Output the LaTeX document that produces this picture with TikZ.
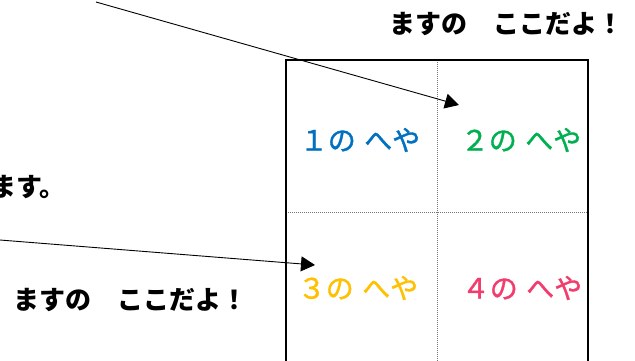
\documentclass[tikz,border=0pt]{standalone}
\usepackage{fontspec}
\newfontfamily\jp{Noto Sans CJK JP}
\newfontfamily\jpm[FakeBold=1.2]{Noto Sans CJK JP}
\usetikzlibrary{arrows.meta}
\definecolor{rblue}{HTML}{0070C0}
\definecolor{rgreen}{HTML}{00B050}
\definecolor{ryellow}{HTML}{FFC000}
\definecolor{rpink}{HTML}{F23C6E}
\newcommand{\gp}{\hspace{0.3em}}
\tikzset{
  blk/.style={font=\jp\bfseries\fontsize{26}{30}\selectfont, inner sep=0pt, text=black},
  room/.style={font=\jpm\fontsize{28}{32}\selectfont, inner sep=0pt},
  frame/.style={draw=black, line width=1.5pt},
  grid/.style={draw=black!55, line width=1pt, dash pattern=on 1pt off 1pt},
  pointer/.style={draw=black, line width=0.9pt, -{Triangle[length=14pt,width=15pt]}}
}
\begin{document}
\begin{tikzpicture}[x=1pt,y=-1pt]
\useasboundingbox (0,0) rectangle (635,360);
% grid lines
\draw[grid] (437,60) -- (437,365);
\draw[grid] (286,212) -- (588,212);
% frame
\draw[frame] (286,370) -- (286,60) -- (588,60) -- (588,370);
% texts
\node[blk] (t1) at (506,24) {ますの　ここだよ！};
\node[blk, anchor=west] (t2) at (-10,187) {ます。};
\node[blk] (t3) at (130,300) {ますの　ここだよ！};
\node[room, text=rblue] (r1) at (360,140) {１の\gp へや};
\node[room, text=rgreen] (r2) at (521,140) {２の\gp へや};
\node[room, text=ryellow] (r3) at (358,288) {３の\gp へや};
\node[room, text=rpink] (r4) at (522,288) {４の\gp へや};
% arrows
\coordinate (s1) at (96,2);
\coordinate (e1) at (459,105);
\coordinate (s2) at (0,240);
\coordinate (e2) at (315,265);
\draw[pointer] (s1) -- (e1);
\draw[pointer] (s2) -- (e2);
\end{tikzpicture}
\end{document}
